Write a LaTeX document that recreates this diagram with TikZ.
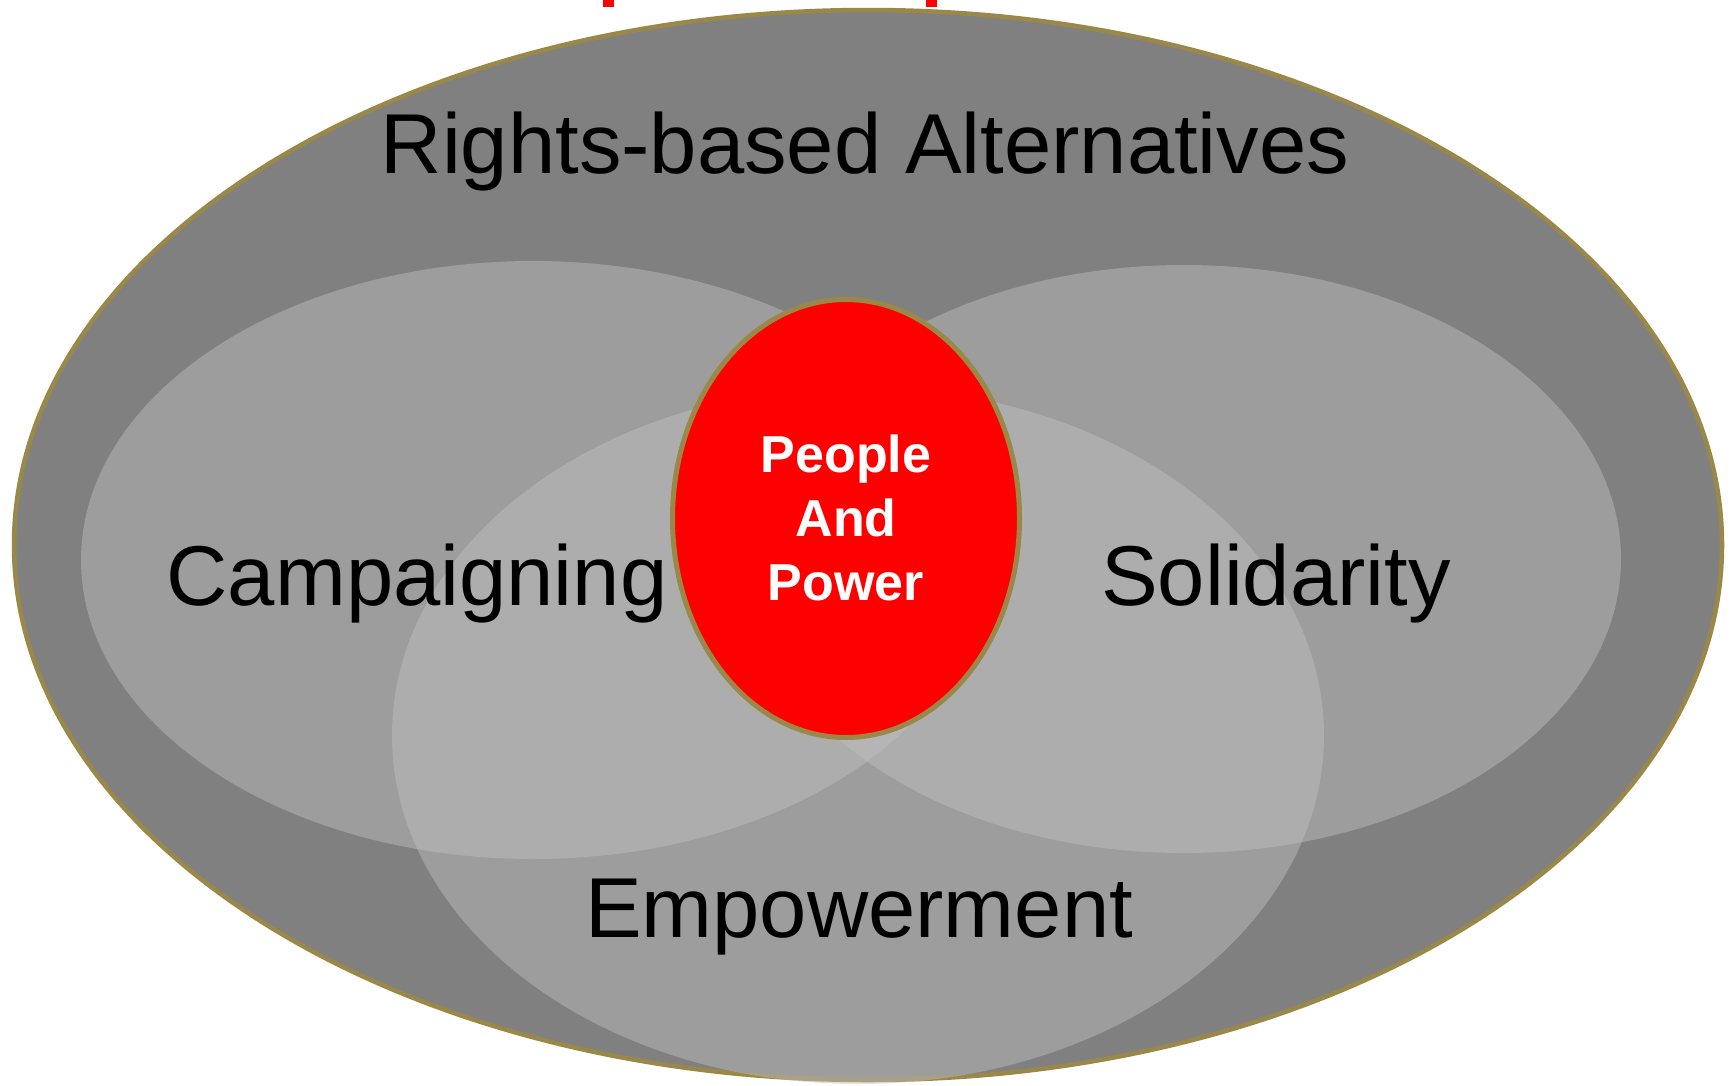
\documentclass[tikz,border=0pt]{standalone}
\usepackage{fontspec}
\usetikzlibrary{shapes.geometric}
\setmainfont{Liberation Sans}
\definecolor{olivebd}{HTML}{9A8848}
\definecolor{outerfill}{HTML}{808080}
\definecolor{petal}{HTML}{BFBFBF}
\begin{document}
\begin{tikzpicture}[x=1pt,y=-1pt,
  bigtext/.style={font=\fontsize{85}{85}\selectfont, text=black, anchor=base, inner sep=0pt},
  petalfill/.style={fill=petal, fill opacity=0.47, draw=none},
  coretext/.style={font=\fontsize{52}{64}\selectfont\bfseries, text=white, align=center, inner sep=0pt}]
\useasboundingbox (0,0) rectangle (1733,1085);
% outer ellipse
\path[fill=outerfill, draw=olivebd, line width=4.5pt] (868,545) ellipse [x radius=854, y radius=535];
% petals
\path[petalfill] (533,560) ellipse [x radius=452, y radius=299];
\path[petalfill] (1184,559) ellipse [x radius=437, y radius=294];
\path[petalfill] (858,735.5) ellipse [x radius=466, y radius=348.5];
% red core
\node[ellipse, draw=olivebd, line width=5pt, fill=red, minimum width=347pt, minimum height=438pt, inner sep=0pt] (core) at (846,518.5) {};
\node[coretext] (coreLabel) at (846,518) {People\\And\\Power};
% labels
\node[bigtext] (rights) at (865,173) {Rights-based Alternatives};
\node[bigtext] (camp) at (417,605) {Campaigning};
\node[bigtext] (soli) at (1276,605) {Solidarity};
\node[bigtext] (empo) at (859,937) {Empowerment};
% cut-off red title fragments
\fill[red] (603,0) rectangle (614,6.5);
\fill[red] (926,0) rectangle (937,6.5);
\end{tikzpicture}
\end{document}
